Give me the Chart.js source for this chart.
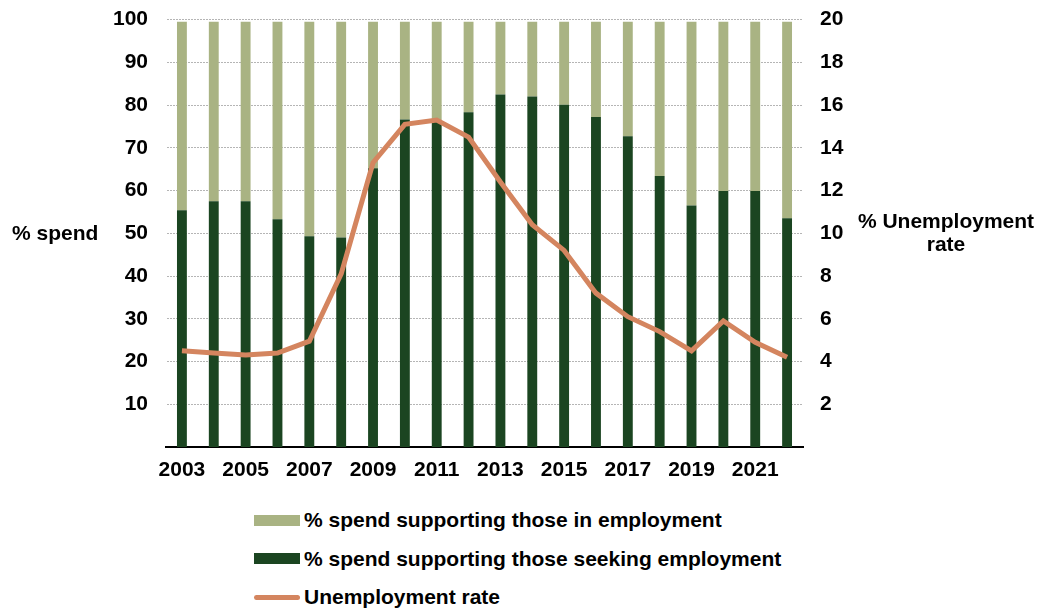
<!DOCTYPE html>
<html lang="en">
<head>
  <meta charset="UTF-8">
  <title>Spend split and unemployment rate</title>
  <style>
    body {
      margin: 0;
      padding: 0;
      background: #ffffff;
      font-family: Arial, "Liberation Sans", sans-serif;
      overflow: hidden;
    }
    .wrap {
      position: relative;
      width: 1052px;
      height: 609px;
      overflow: hidden;
    }
    .chart-box {
      position: absolute;
      left: 0;
      top: -11px;
      width: 1052px;
      height: 511px;
    }
    #legend {
      position: absolute;
      left: 254px;
      top: 501px;
    }
    .item {
      display: flex;
      align-items: center;
      height: 38.5px;
      font-size: 21px;
      font-weight: bold;
      color: #000;
    }
    .swatch {
      width: 46px;
      height: 11px;
      margin-right: 4px;
    }
    .swatch.line {
      height: 5px;
      border-radius: 3px;
    }
  </style>
</head>
<body>
  <div class="wrap">
    <div class="chart-box"><canvas id="chart"></canvas></div>
    <div id="legend"></div>
  </div>

  <script src="https://cdn.jsdelivr.net/npm/chart.js"></script>
  <script>
    // data
    const years = ["2003", "2004", "2005", "2006", "2007", "2008", "2009", "2010", "2011", "2012",
                   "2013", "2014", "2015", "2016", "2017", "2018", "2019", "2020", "2021", "2022"];
    const seekingSpend = [55.4, 57.5, 57.5, 53.3, 49.3, 49.0, 65.2, 76.6, 76.4, 78.3,
                          82.5, 82.0, 80.1, 77.2, 72.7, 63.4, 56.5, 59.9, 59.9, 53.5];
    const employedSpend = [44.1, 42.0, 42.0, 46.2, 50.2, 50.5, 34.3, 22.9, 23.1, 21.2,
                           17.0, 17.5, 19.4, 22.3, 26.8, 36.1, 43.0, 39.6, 39.6, 46.0];
    const unemploymentRate = [4.5, 4.4, 4.3, 4.4, 4.95, 8.1, 13.3, 15.1, 15.3, 14.5,
                              12.4, 10.4, 9.2, 7.2, 6.1, 5.4, 4.5, 5.9, 4.9, 4.2];
    const leftTicks = [10, 20, 30, 40, 50, 60, 70, 80, 90, 100];
    const rightTicks = [2, 4, 6, 8, 10, 12, 14, 16, 18, 20];

    const lightGreen = "#a9b383";
    const darkGreen = "#1b4521";
    const orange = "#d4855f";
    const tickFont = { family: "Arial, 'Liberation Sans', sans-serif", size: 21, weight: "bold" };

    // side titles, drawn next to the axes
    const sideTitles = {
      id: "sideTitles",
      afterDraw(chart) {
        const ctx = chart.ctx;
        const area = chart.chartArea;
        const mid = (area.top + area.bottom) / 2;
        ctx.save();
        ctx.fillStyle = "#000";
        ctx.font = "bold 21px Arial, 'Liberation Sans', sans-serif";
        ctx.textBaseline = "middle";
        ctx.textAlign = "left";
        ctx.fillText("% spend", 12, mid + 1);
        ctx.textAlign = "center";
        ctx.fillText("% Unemployment", 946, mid - 11);
        ctx.fillText("rate", 946, mid + 12);
        ctx.restore();
      }
    };

    const chart = new Chart(document.getElementById("chart"), {
      type: "bar",
      data: {
        labels: years,
        datasets: [
          {
            type: "line",
            label: "Unemployment rate",
            data: unemploymentRate,
            yAxisID: "y2",
            borderColor: orange,
            backgroundColor: orange,
            borderWidth: 5,
            pointRadius: 0,
            tension: 0,
            order: 0,
          },
          {
            label: "% spend supporting those seeking employment",
            data: seekingSpend,
            backgroundColor: darkGreen,
            yAxisID: "y",
            stack: "s",
            order: 1,
          },
          {
            label: "% spend supporting those in employment",
            data: employedSpend,
            backgroundColor: lightGreen,
            yAxisID: "y",
            stack: "s",
            order: 1,
          },
        ],
      },
      options: {
        responsive: true,
        maintainAspectRatio: false,
        animation: false,
        categoryPercentage: 1,
        barPercentage: 0.31,
        layout: { padding: { top: 8, right: 0, left: 0, bottom: 0 } },
        plugins: {
          legend: { display: false },
          tooltip: { enabled: false },
        },
        scales: {
          x: {
            stacked: true,
            grid: { display: false, drawTicks: false },
            border: { display: true, color: "#000", width: 2 },
            ticks: {
              color: "#000",
              font: tickFont,
              autoSkip: false,
              maxRotation: 0,
              padding: 11,
              callback: (v, i) => (i % 2 === 0 ? years[i] : ""),
            },
            afterFit: (s) => { s.height = 53; },
          },
          y: {
            stacked: true,
            position: "left",
            min: 0,
            max: 100,
            afterBuildTicks: (s) => { s.ticks = leftTicks.map((v) => ({ value: v })); },
            grid: { color: "#b5b5b5", lineWidth: 1, drawTicks: false },
            border: { display: true, color: "rgba(0,0,0,0)", dash: [2, 1] },
            ticks: { color: "#000", font: tickFont, padding: 18 },
            afterFit: (s) => { s.width = 166; },
          },
          y2: {
            position: "right",
            min: 0,
            max: 20,
            afterBuildTicks: (s) => { s.ticks = rightTicks.map((v) => ({ value: v })); },
            grid: { display: false, drawTicks: false },
            border: { display: false },
            ticks: { color: "#000", font: tickFont, padding: 17 },
            afterFit: (s) => { s.width = 249; },
          },
        },
      },
      plugins: [sideTitles],
    });

    // legend, one entry per row
    const legendOrder = [2, 1, 0];
    const legend = document.getElementById("legend");
    legendOrder.forEach((i) => {
      const ds = chart.data.datasets[i];
      const row = document.createElement("div");
      row.className = "item";
      const sw = document.createElement("span");
      sw.className = ds.type === "line" ? "swatch line" : "swatch";
      sw.style.background = ds.type === "line" ? ds.borderColor : ds.backgroundColor;
      row.appendChild(sw);
      row.appendChild(document.createTextNode(ds.label));
      legend.appendChild(row);
    });
  </script>
</body>
</html>
